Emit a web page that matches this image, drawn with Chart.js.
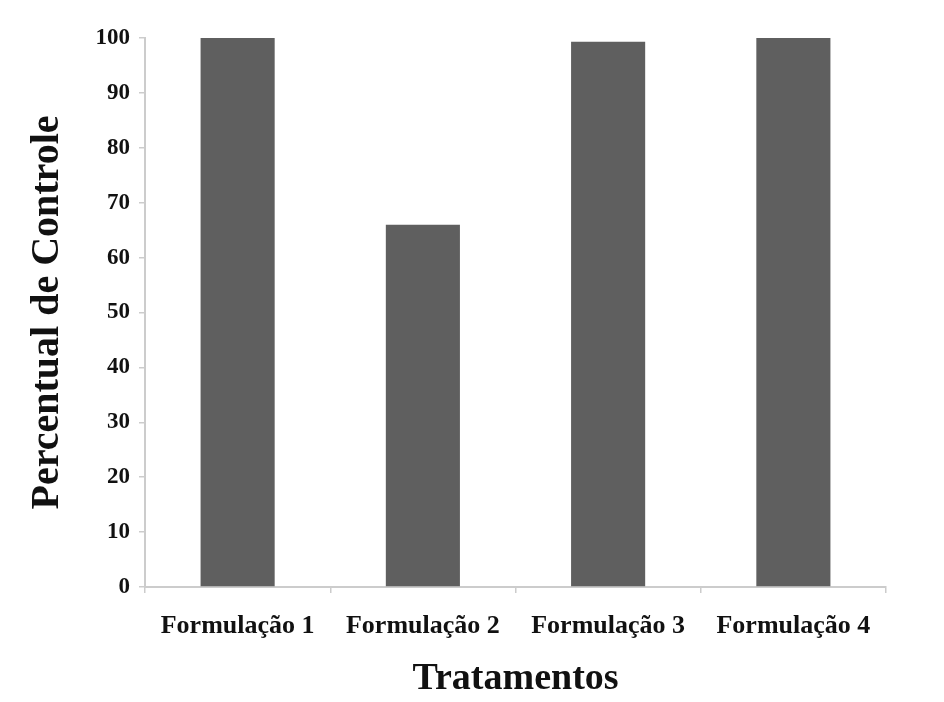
<!DOCTYPE html>
<html>
<head>
<meta charset="utf-8">
<script src="https://cdn.jsdelivr.net/npm/chart.js@4"></script>
<style>
  html, body { margin: 0; padding: 0; background: #ffffff; }
  #wrap { width: 944px; height: 702px; }
</style>
</head>
<body>
<div id="wrap"><canvas id="grafico"></canvas></div>
<script>
var categorias = ["Formulação 1", "Formulação 2", "Formulação 3", "Formulação 4"];
var valores = [100, 66, 99.3, 100];
var yMin = 0, yMax = 100, yPasso = 10;

var serif = "'Liberation Serif', 'DejaVu Serif', serif";
var corEixo = "#cccccc";

var data = {
    labels: categorias,
    datasets: [{
        data: valores,
        backgroundColor: "#5f5f5f",
        borderWidth: 0,
        barPercentage: 0.4,
        categoryPercentage: 1.0
    }]
};

var options = {
    responsive: true,
    maintainAspectRatio: false,
    animation: false,
    layout: { padding: { left: 0, right: 58, top: 38, bottom: 0 } },
    plugins: { legend: { display: false }, tooltip: { enabled: false } },
    scales: {
        x: {
            offset: true,
            grid: { offset: true, drawOnChartArea: false, color: corEixo, tickLength: 6, lineWidth: 1.5 },
            border: { color: corEixo, width: 2 },
            ticks: { color: "#111", padding: 18, maxRotation: 0, font: { family: serif, size: 26, weight: "bold" } },
            title: { display: true, text: "Tratamentos", color: "#111", padding: { top: 4, bottom: 0 }, font: { family: serif, size: 38, weight: "bold" } },
            afterFit: function (s) { s.height = 115; }
        },
        y: {
            min: yMin, max: yMax,
            grid: { drawOnChartArea: false, color: corEixo, tickLength: 6, lineWidth: 1.5 },
            border: { color: corEixo, width: 2 },
            ticks: { stepSize: yPasso, color: "#111", padding: 9, font: { family: serif, size: 23, weight: "bold" } },
            title: { display: true, text: "Percentual de Controle", color: "#111", padding: { top: 24, bottom: 0 }, font: { family: serif, size: 40, weight: "bold" } },
            afterFit: function (s) { s.width = 145; }
        }
    }
};

var grafico = new Chart(document.getElementById("grafico"), { type: "bar", data: data, options: options });
</script>
</body>
</html>
